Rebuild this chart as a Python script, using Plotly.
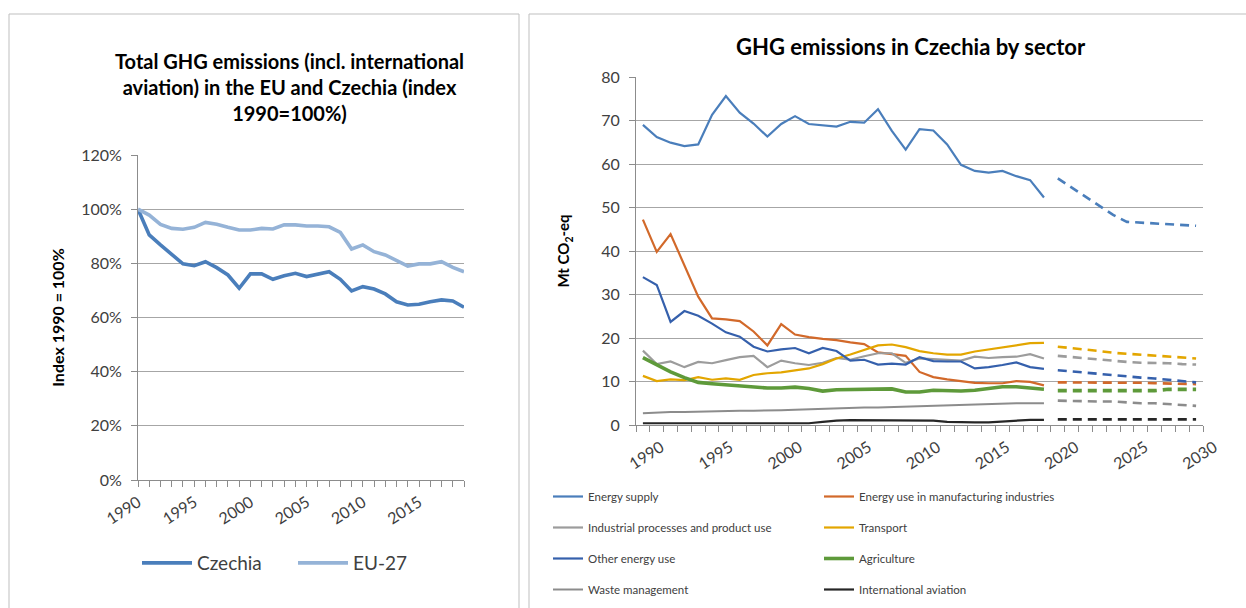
import plotly.graph_objects as go

W, H = 1246, 608

# ---------------- Left chart data ----------------
years_left = list(range(1990, 2020))
czechia = [1.000, 0.905, 0.868, 0.831, 0.798, 0.791, 0.806, 0.784, 0.757, 0.708,
           0.761, 0.761, 0.741, 0.754, 0.763, 0.751, 0.759, 0.769, 0.741, 0.698,
           0.714, 0.705, 0.687, 0.658, 0.646, 0.649, 0.658, 0.665, 0.661, 0.638]
eu27 = [1.000, 0.978, 0.944, 0.929, 0.926, 0.933, 0.951, 0.944, 0.933, 0.923,
        0.923, 0.929, 0.927, 0.942, 0.942, 0.938, 0.938, 0.935, 0.914, 0.853,
        0.868, 0.843, 0.831, 0.812, 0.790, 0.798, 0.798, 0.806, 0.785, 0.769]
left_ticks = [1990, 1995, 2000, 2005, 2010, 2015]

# ---------------- Right chart data ----------------
years_hist = list(range(1990, 2020))
years_proj = list(range(2020, 2031))
right_ticks = [1990, 1995, 2000, 2005, 2010, 2015, 2020, 2025, 2030]

energy_supply = [69.0, 66.2, 64.9, 64.1, 64.5, 71.3, 75.6, 71.8, 69.3, 66.3,
                 69.2, 71.0, 69.2, 68.9, 68.6, 69.7, 69.5, 72.6, 67.6, 63.3,
                 68.0, 67.7, 64.5, 59.8, 58.4, 58.0, 58.4, 57.2, 56.3, 52.3]
energy_supply_proj = [56.7, 54.6, 52.5, 50.3, 48.3, 46.7, 46.5, 46.4, 46.2, 46.0, 45.8]

manufacturing = [47.2, 39.8, 43.9, 36.5, 29.5, 24.5, 24.3, 23.9, 21.5, 18.3,
                 23.2, 20.8, 20.2, 19.8, 19.5, 19.0, 18.6, 16.7, 16.3, 15.9,
                 12.2, 11.0, 10.5, 10.1, 9.7, 9.6, 9.6, 10.1, 9.9, 9.1]
manufacturing_proj = [9.8, 9.8, 9.8, 9.7, 9.7, 9.7, 9.7, 9.6, 9.5, 9.5, 9.4]

industrial = [17.1, 14.0, 14.6, 13.3, 14.5, 14.2, 14.9, 15.6, 15.9, 13.3,
              14.8, 14.2, 13.8, 14.3, 15.4, 15.0, 15.8, 16.5, 16.5, 14.3,
              15.3, 15.1, 14.9, 14.8, 15.7, 15.4, 15.6, 15.7, 16.3, 15.3]
industrial_proj = [15.9, 15.6, 15.3, 15.0, 14.7, 14.5, 14.3, 14.3, 14.2, 14.0, 13.9]

transport = [11.3, 10.1, 10.5, 10.3, 11.0, 10.4, 10.7, 10.4, 11.5, 11.9,
             12.1, 12.5, 13.0, 14.0, 15.3, 16.2, 17.3, 18.3, 18.5, 17.9,
             17.0, 16.5, 16.2, 16.2, 16.9, 17.4, 17.9, 18.4, 18.8, 18.9]
transport_proj = [18.0, 17.7, 17.4, 17.0, 16.6, 16.4, 16.1, 15.9, 15.7, 15.5, 15.3]

other_energy = [34.0, 32.2, 23.7, 26.2, 25.1, 23.3, 21.3, 20.3, 18.0, 16.9,
                17.4, 17.7, 16.5, 17.7, 17.0, 14.8, 15.0, 13.9, 14.1, 13.9,
                15.6, 14.7, 14.6, 14.6, 13.0, 13.3, 13.8, 14.4, 13.3, 12.9]
other_energy_proj = [12.6, 12.3, 12.0, 11.7, 11.4, 11.1, 10.9, 10.7, 10.4, 10.1, 9.8]

agriculture = [15.5, 13.8, 12.2, 10.9, 9.8, 9.5, 9.2, 8.9, 8.6, 8.5,
               8.5, 8.7, 8.4, 7.8, 8.1, 8.2, 8.2, 8.3, 8.3, 7.6,
               7.6, 8.0, 7.8, 7.8, 8.0, 8.4, 8.8, 8.8, 8.6, 8.2]
agriculture_proj = [7.9, 7.9, 7.9, 7.9, 7.9, 7.9, 7.9, 7.9, 8.2, 8.2, 8.2]

waste = [2.7, 2.9, 3.0, 3.0, 3.1, 3.2, 3.2, 3.3, 3.3, 3.3,
         3.4, 3.5, 3.6, 3.7, 3.9, 4.0, 4.0, 4.0, 4.1, 4.2,
         4.4, 4.5, 4.6, 4.7, 4.8, 4.9, 5.0, 5.0, 5.0, 5.0]
waste_proj = [5.6, 5.5, 5.4, 5.4, 5.4, 5.2, 5.0, 5.0, 4.8, 4.6, 4.4]

aviation = [0.4, 0.4, 0.4, 0.4, 0.4, 0.4, 0.4, 0.4, 0.4, 0.4,
            0.4, 0.4, 0.4, 0.7, 1.0, 1.1, 1.1, 1.1, 1.1, 1.1,
            1.1, 1.0, 0.7, 0.6, 0.6, 0.6, 0.8, 1.0, 1.2, 1.2]
aviation_proj = [1.3, 1.3, 1.3, 1.3, 1.3, 1.3, 1.3, 1.3, 1.3, 1.3, 1.3]

sectors = [
    ("Energy supply", energy_supply, energy_supply_proj, "#4A7EBB", 2.2, "legend2"),
    ("Energy use in manufacturing industries", manufacturing, manufacturing_proj, "#D2692A", 2.2, "legend3"),
    ("Industrial processes and product use", industrial, industrial_proj, "#9C9C9C", 2.2, "legend2"),
    ("Transport", transport, transport_proj, "#E3A600", 2.2, "legend3"),
    ("Other energy use", other_energy, other_energy_proj, "#3560AC", 2.2, "legend2"),
    ("Agriculture", agriculture, agriculture_proj, "#5E9A3A", 3.6, "legend3"),
    ("Waste management", waste, waste_proj, "#8C8C8C", 2.0, "legend2"),
    ("International aviation", aviation, aviation_proj, "#262626", 2.2, "legend3"),
]

FONT = "Lato, 'Open Sans', sans-serif"
TXT = "#404040"
GRID = "#A6A6A6"

fig = go.Figure()

# Left chart traces
fig.add_trace(go.Scatter(x=years_left, y=czechia, mode="lines", name="Czechia",
                         line=dict(color="#4A7EBB", width=3.6), xaxis="x", yaxis="y",
                         legend="legend"))
fig.add_trace(go.Scatter(x=years_left, y=eu27, mode="lines", name="EU-27",
                         line=dict(color="#95B3D7", width=3.6), xaxis="x", yaxis="y",
                         legend="legend"))

# Right chart traces
for name, hist, proj, color, width, leg in sectors:
    fig.add_trace(go.Scatter(x=years_hist, y=hist, mode="lines", name=name,
                             line=dict(color=color, width=width),
                             xaxis="x2", yaxis="y2", legend=leg, legendgroup=name))
for name, hist, proj, color, width, leg in sectors:
    fig.add_trace(go.Scatter(x=years_proj, y=proj, mode="lines", name=name + " (projection)",
                             line=dict(color=color, width=max(width, 2.6), dash="9px,6px"),
                             xaxis="x2", yaxis="y2", showlegend=False, legendgroup=name))

def px_x(p):
    return p / W

def px_y(p):
    return 1 - p / H

axis_common = dict(showline=True, linecolor="#8C8C8C", linewidth=1, automargin=False,
                   tickfont=dict(family=FONT, size=16, color=TXT), zeroline=False)

fig.update_layout(
    width=W, height=H,
    margin=dict(l=0, r=0, t=0, b=0, autoexpand=False),
    paper_bgcolor="white", plot_bgcolor="white",
    font=dict(family=FONT, color=TXT),
    xaxis=dict(domain=[px_x(138), px_x(464)], range=[1990, 2019], anchor="y",
               tickvals=left_ticks, ticktext=[str(v) for v in left_ticks],
               tickangle=-33, ticks="outside", ticklen=6, tickcolor="#8C8C8C",
               minor=dict(ticks="outside", dtick=1, tick0=1990, ticklen=6, tickcolor="#8C8C8C"),
               showgrid=False, ticklabelshift=0, **axis_common),
    yaxis=dict(domain=[px_y(480), px_y(155)], range=[0, 1.2], anchor="x",
               dtick=0.2, tickformat=".0%", ticks="outside", ticklen=6, tickcolor="#8C8C8C",
               showgrid=True, gridcolor=GRID, gridwidth=1, ticklabelstandoff=6,
               title=dict(text="<b>Index 1990 = 100%</b>", font=dict(family=FONT, size=16, color="black"),
                          standoff=12),
               **axis_common),
    xaxis2=dict(domain=[px_x(636), px_x(1203)], range=[1989.5, 2030.5], anchor="y2",
                tickvals=right_ticks, ticktext=[str(v) for v in right_ticks],
                tickangle=-33, ticks="",
                minor=dict(ticks="outside", dtick=1, tick0=1989.5, ticklen=6, tickcolor="#8C8C8C"),
                showgrid=False, ticklabelshift=18, ticklabelstandoff=6, **axis_common),
    yaxis2=dict(domain=[px_y(425), px_y(77)], range=[0, 80], anchor="x2",
                dtick=10, ticks="outside", ticklen=6, tickcolor="#8C8C8C",
                showgrid=True, gridcolor=GRID, gridwidth=1, ticklabelstandoff=6,
                title=dict(text="<b>Mt CO<sub>2</sub>-eq</b>", font=dict(family=FONT, size=15, color="black"),
                           standoff=27),
                **axis_common),
    legend=dict(orientation="h", traceorder="normal", x=px_x(137), y=px_y(563),
                xanchor="left", yanchor="middle", itemwidth=50,
                font=dict(family=FONT, size=19, color=TXT), entrywidth=91, entrywidthmode="pixels",
                bgcolor="rgba(0,0,0,0)"),
    legend2=dict(orientation="v", x=px_x(548), y=px_y(482), xanchor="left", yanchor="top",
                 font=dict(family=FONT, size=11.5, color=TXT),
                 tracegroupgap=12, bgcolor="rgba(0,0,0,0)"),
    legend3=dict(orientation="v", x=px_x(819), y=px_y(482), xanchor="left", yanchor="top",
                 font=dict(family=FONT, size=11.5, color=TXT),
                 tracegroupgap=12, bgcolor="rgba(0,0,0,0)"),
    annotations=[
        dict(text="<b>Total GHG emissions (incl. international<br>aviation) in the EU and Czechia (index<br>1990=100%)</b>",
             x=px_x(289), y=px_y(47), xref="paper", yref="paper", xanchor="center", yanchor="top",
             showarrow=False, align="center", font=dict(family=FONT, size=20, color="black")),
        dict(text="<b>GHG emissions in Czechia by sector</b>",
             x=px_x(911), y=px_y(47), xref="paper", yref="paper", xanchor="center", yanchor="middle",
             showarrow=False, font=dict(family=FONT, size=22, color="black")),
    ],
    shapes=[
        dict(type="rect", xref="paper", yref="paper", x0=px_x(9), x1=px_x(519), y0=-0.05, y1=px_y(14),
             line=dict(color="#BFBFBF", width=1), fillcolor="rgba(0,0,0,0)", layer="below"),
        dict(type="rect", xref="paper", yref="paper", x0=px_x(529), x1=1.05, y0=-0.05, y1=px_y(14),
             line=dict(color="#BFBFBF", width=1), fillcolor="rgba(0,0,0,0)", layer="below"),
    ],
)

fig.write_html(
    "out.html",
    config={"displayModeBar": False},
    post_script="document.body.style.margin='0px';document.body.style.overflow='hidden';",
)
